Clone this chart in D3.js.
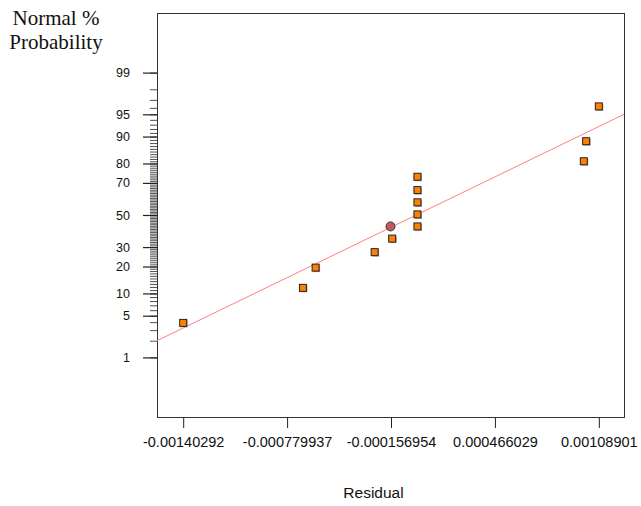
<!DOCTYPE html>
<html>
<head>
<meta charset="utf-8">
<script src="https://cdn.jsdelivr.net/npm/d3@7"></script>
<style>
  body { margin: 0; background: #fff; }
</style>
</head>
<body>
<div id="chart"></div>
<script>
// Residuals (x) and normal % probability (y) of the run points
const residuals = [-0.00140292, -0.000685, -0.000609, -0.000255, -0.000150,
    0.0000015, 0.0000015, 0.0000015, 0.0000015, 0.0000015,
    0.000999, 0.001013, 0.00108901];
const probabilities = [3.9, 11.7, 19.5, 27.2, 35.0, 42.6, 50.4, 58.2, 65.8, 73.4, 81.0, 88.6, 96.2];

// highlighted point (circle)
const markRes = [-0.000160];
const markProb = [42.6];

// fitted normal line, end points
const lineRes = [-0.00156, 0.00124];
const lineProb = [2.0, 95.0];

const xTicks = [-0.00140292, -0.000779937, -0.000156954, 0.000466029, 0.00108901];
const xTickLabels = ["-0.00140292", "-0.000779937", "-0.000156954", "0.000466029", "0.00108901"];
const yMajor = [1, 5, 10, 20, 30, 50, 70, 80, 90, 95, 99];
const yMinor = d3.range(1, 100);

const W = 641, H = 506;
const box = { left: 157, right: 624, top: 13, bottom: 417 };

// inverse normal cdf (Acklam)
function probit(p) {
    const a = [-39.69683028665376, 220.9460984245205, -275.9285104469687, 138.3577518672690, -30.66479806614716, 2.506628277459239];
    const b = [-54.47609879822406, 161.5858368580409, -155.6989798598866, 66.80131188771972, -13.28068155288572];
    const c = [-0.007784894002430293, -0.3223964580411365, -2.400758277161838, -2.549732539343734, 4.374664141464968, 2.938163982698783];
    const d = [0.007784695709041462, 0.3224671290700398, 2.445134137142996, 3.754408661907416];
    const pl = 0.02425;
    let q, r;
    if (p < pl) {
        q = Math.sqrt(-2 * Math.log(p));
        return (((((c[0]*q+c[1])*q+c[2])*q+c[3])*q+c[4])*q+c[5]) / ((((d[0]*q+d[1])*q+d[2])*q+d[3])*q+1);
    } else if (p <= 1 - pl) {
        q = p - 0.5; r = q * q;
        return (((((a[0]*r+a[1])*r+a[2])*r+a[3])*r+a[4])*r+a[5])*q / (((((b[0]*r+b[1])*r+b[2])*r+b[3])*r+b[4])*r+1);
    }
    q = Math.sqrt(-2 * Math.log(1 - p));
    return -(((((c[0]*q+c[1])*q+c[2])*q+c[3])*q+c[4])*q+c[5]) / ((((d[0]*q+d[1])*q+d[2])*q+d[3])*q+1);
}

const svg = d3.select("#chart").append("svg")
    .attr("width", W)
    .attr("height", H)
    .style("font-family", "Arial, 'Liberation Sans', sans-serif");

const x = d3.scaleLinear()
    .domain([-0.00156, 0.00124])
    .range([box.left, box.right]);

const y = d3.scaleLinear()
    .domain([-3.3, 3.3])
    .range([box.bottom, box.top]);

const yP = p => y(probit(p / 100));

// Minor y ticks (every percent)
svg.append("g")
    .attr("transform", `translate(${box.left},0)`)
    .call(d3.axisLeft(y)
        .tickValues(yMinor.map(p => probit(p / 100)))
        .tickSize(7)
        .tickFormat(""))
    .call(g => g.select(".domain").remove())
    .call(g => g.selectAll("line").attr("stroke", "#222").attr("stroke-width", 0.8));

// Major y ticks
svg.append("g")
    .attr("transform", `translate(${box.left},0)`)
    .call(d3.axisLeft(y)
        .tickValues(yMajor.map(p => probit(p / 100)))
        .tickSize(14)
        .tickPadding(13)
        .tickFormat((d, i) => yMajor[i]))
    .call(g => g.select(".domain").remove())
    .call(g => g.selectAll("line").attr("stroke", "#222").attr("stroke-width", 1.2))
    .call(g => g.selectAll("text")
        .style("font-size", "12.5px")
        .style("font-family", "Arial, 'Liberation Sans', sans-serif")
        .attr("fill", "#111"));

// X axis
svg.append("g")
    .attr("transform", `translate(0,${box.bottom})`)
    .call(d3.axisBottom(x)
        .tickValues(xTicks)
        .tickSize(11)
        .tickPadding(9)
        .tickFormat((d, i) => xTickLabels[i]))
    .call(g => g.select(".domain").remove())
    .call(g => g.selectAll("line").attr("stroke", "#222"))
    .call(g => g.selectAll("text")
        .style("font-size", "14.5px")
        .style("font-family", "Arial, 'Liberation Sans', sans-serif")
        .attr("fill", "#111"));

// Plot box
svg.append("rect")
    .attr("x", box.left + 0.5)
    .attr("y", box.top + 0.5)
    .attr("width", box.right - box.left)
    .attr("height", box.bottom - box.top)
    .attr("fill", "none")
    .attr("stroke", "#333")
    .attr("stroke-width", 1);

// Fit line
svg.append("clipPath").attr("id", "clip")
    .append("rect")
    .attr("x", box.left).attr("y", box.top)
    .attr("width", box.right - box.left).attr("height", box.bottom - box.top);

svg.append("path")
    .datum(d3.zip(lineRes, lineProb))
    .attr("clip-path", "url(#clip)")
    .attr("fill", "none")
    .attr("stroke", "#ff8080")
    .attr("stroke-width", 1)
    .attr("d", d3.line().x(d => x(d[0])).y(d => yP(d[1])));

// Points
const pts = d3.zip(residuals, probabilities);
const s = 7;

svg.selectAll(".shadow")
    .data(pts)
    .enter()
    .append("rect")
    .attr("x", d => x(d[0]) - s / 2 + 1)
    .attr("y", d => yP(d[1]) - s / 2 + 1)
    .attr("width", s)
    .attr("height", s)
    .attr("fill", "#aaa");

svg.selectAll(".pt")
    .data(pts)
    .enter()
    .append("rect")
    .attr("x", d => x(d[0]) - s / 2)
    .attr("y", d => yP(d[1]) - s / 2)
    .attr("width", s)
    .attr("height", s)
    .attr("fill", "#ff8000")
    .attr("stroke", "#222")
    .attr("stroke-width", 1);

svg.selectAll(".mark")
    .data(d3.zip(markRes, markProb))
    .enter()
    .append("circle")
    .attr("cx", d => x(d[0]))
    .attr("cy", d => yP(d[1]))
    .attr("r", 4.5)
    .attr("fill", "#c05a5a")
    .attr("stroke", "#333")
    .attr("stroke-width", 1);

// Axis titles
svg.append("text")
    .attr("x", 373.5)
    .attr("y", 498)
    .attr("text-anchor", "middle")
    .style("font-size", "15.5px")
    .attr("fill", "#111")
    .text("Residual");

const yTitle = svg.append("text")
    .attr("text-anchor", "middle")
    .style("font-family", "'Liberation Serif', 'Times New Roman', serif")
    .style("font-size", "21px")
    .attr("fill", "#111");
yTitle.append("tspan").attr("x", 56).attr("y", 25).text("Normal %");
yTitle.append("tspan").attr("x", 56).attr("y", 49).text("Probability");
</script>
</body>
</html>
